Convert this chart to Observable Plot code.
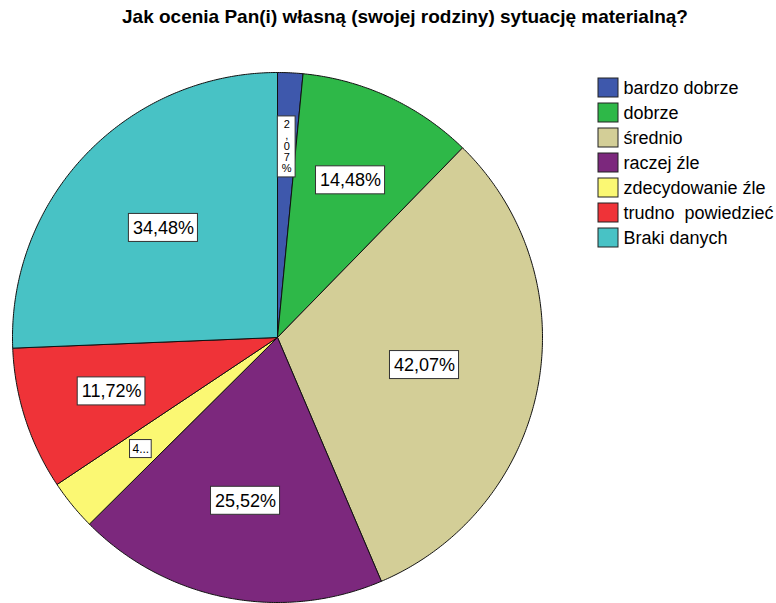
<!DOCTYPE html>
<html><head><meta charset="utf-8">
<script src="https://cdn.jsdelivr.net/npm/d3@7"></script>
<script src="https://cdn.jsdelivr.net/npm/@observablehq/plot@0.6"></script>
<style>
body{margin:0;background:#fff;font-family:"Liberation Sans",Arial,sans-serif;}
#wrap{position:relative;width:776px;height:603px;overflow:hidden;background:#fff;}
#title{position:absolute;top:6px;left:0;width:810px;text-align:center;font-weight:bold;font-size:19px;color:#000;white-space:nowrap;}
#pie{position:absolute;left:0;top:0;}
#legend{position:absolute;left:596px;top:73px;}
#legend text{white-space:pre;}
</style></head><body>
<div id="wrap"><div id="pie"></div><div id="title"></div><div id="legend"></div></div>
<script>
const titleText = "Jak ocenia Pan(i) własną (swojej rodziny) sytuację materialną?";
const categories = ["bardzo dobrze","dobrze","średnio","raczej źle","zdecydowanie źle","trudno  powiedzieć","Braki danych"];
const counts = [3,21,61,37,6,17,50];
const percents = [2.07,14.48,42.07,25.52,4.14,11.72,34.48];
const colors = ["#3E58AC","#2EB848","#D3CE97","#7C287D","#FBF873","#EF3338","#48C2C5"];

document.getElementById("title").textContent = titleText;

const CX = 277, CY = 337, R = 265;
const FONT = "'Liberation Sans', Arial, sans-serif";

const rows = categories.map((c, i) => ({cat: c, count: counts[i], pct: percents[i]}));
const arcs = d3.pie().sort(null).value(d => d.count)(rows);

// slice polygons in unit-circle coordinates
const pts = [];
const step = Math.PI / 360;
for (const a of arcs) {
  const n = Math.max(2, Math.ceil((a.endAngle - a.startAngle) / step));
  pts.push({cat: a.data.cat, x: 0, y: 0});
  for (let i = 0; i <= n; i++) {
    const t = a.startAngle + (a.endAngle - a.startAngle) * i / n;
    pts.push({cat: a.data.cat, x: Math.sin(t), y: Math.cos(t)});
  }
  pts.push({cat: a.data.cat, x: 0, y: 0});
}

// labels
const canvas = document.createElement("canvas");
const ctx = canvas.getContext("2d");
const fmt = v => v.toFixed(2).replace(".", ",") + "%";
const labels = arcs.map(a => {
  const frac = (a.endAngle - a.startAngle) / (2 * Math.PI);
  const mid = (a.startAngle + a.endAngle) / 2;
  const half = (a.endAngle - a.startAngle) / 2;
  let d = 2 * Math.sin(half) / (3 * half);
  const full = fmt(a.data.pct);
  let text, size, w, h;
  if (frac < 0.02) {
    size = 11;
    text = full.split("").join("\n");
    ctx.font = size + "px " + FONT;
    w = d3.max(full.split(""), ch => ctx.measureText(ch).width) + 8;
    h = full.length * size + 6;
    d = 0.72;
  } else if (frac < 0.04) {
    size = 12;
    text = full[0] + "...";
    ctx.font = size + "px " + FONT;
    w = ctx.measureText(text).width + 5;
    h = 18;
  } else {
    size = 18;
    text = full;
    ctx.font = size + "px " + FONT;
    w = ctx.measureText(text).width + 8;
    h = 28;
  }
  const x = d * Math.sin(mid), y = d * Math.cos(mid);
  return {text, size, x, y, x1: x - w / 2 / R, x2: x + w / 2 / R, y1: y - h / 2 / R, y2: y + h / 2 / R};
});

const pieChart = Plot.plot({
  width: 776, height: 603, margin: 0,
  x: {domain: [-1, 1], range: [CX - R, CX + R], axis: null},
  y: {domain: [-1, 1], range: [CY + R, CY - R], axis: null},
  color: {domain: categories, range: colors},
  style: {fontFamily: FONT, background: "transparent", overflow: "visible"},
  marks: [
    Plot.line(pts, {x: "x", y: "y", z: "cat", fill: "cat", stroke: "#111", strokeWidth: 1, curve: "linear", strokeLinejoin: "miter"}),
    Plot.rect(labels, {x1: "x1", x2: "x2", y1: "y1", y2: "y2", fill: "white", stroke: "#333", strokeWidth: 1}),
    Plot.text(labels, {x: "x", y: "y", text: "text", fontSize: d => d.size, lineHeight: 1, fill: "black"})
  ]
});
document.getElementById("pie").appendChild(pieChart);

const legend = Plot.plot({
  width: 180, height: 179, margin: 0,
  x: {type: "band", domain: ["s"], range: [2, 22], padding: 0, axis: null},
  y: {type: "band", domain: categories, range: [0, 179], padding: 0, axis: null},
  color: {domain: categories, range: colors},
  style: {fontFamily: FONT, background: "transparent", overflow: "visible"},
  marks: [
    Plot.cell(categories, {x: () => "s", y: d => d, fill: d => d, stroke: "#222", strokeWidth: 1, insetTop: 3, insetBottom: 3}),
    Plot.text(categories, {x: () => "s", y: d => d, text: d => d, dx: 15, textAnchor: "start", fontSize: 18, fill: "black"})
  ]
});
document.getElementById("legend").appendChild(legend);
</script>
</body></html>
